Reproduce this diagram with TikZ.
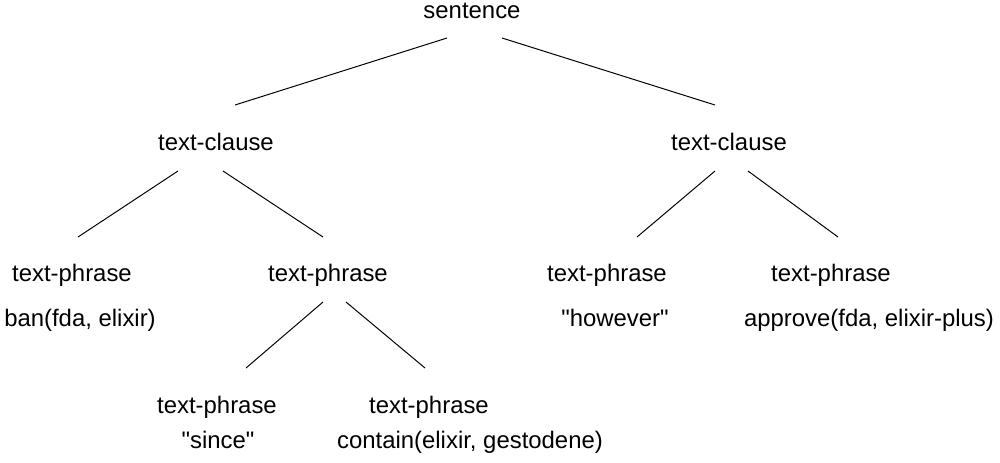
\documentclass[tikz,border=0pt]{standalone}
\usepackage{fontspec}
\setmainfont{Liberation Sans}[Ligatures=TeXOff]
\usetikzlibrary{calc}
\tikzset{
  lbl/.style={inner sep=0pt, text height=12.3pt, text depth=3.6pt,
    font=\fontsize{17}{20}\selectfont},
  branch/.style={line width=0.7pt}
}
\begin{document}
\begin{tikzpicture}[x=0.025cm,y=-0.025cm]
          \useasboundingbox (0,0) rectangle (1000,462);

          \node (s) at (472,12) [lbl] {sentence};
          \node (lc) at (216,144) [lbl] {text-clause};
          \node (rc) at (729,144) [lbl] {text-clause};

          \node (p1) at (72,275) [lbl] {text-phrase};
          \node (p2) at (328,275) [lbl] {text-phrase};
          \node (p3) at (607,275) [lbl] {text-phrase};
          \node (p4) at (831,275) [lbl] {text-phrase};
          \node (p5) at (217,407) [lbl] {text-phrase};
          \node (p6) at (429,407) [lbl] {text-phrase};

          \node (ban) at (80,320) [lbl] {ban(fda, elixir)};
          \node (however) at (615,320) [lbl] {"however"};
          \node (approve) at (869,320) [lbl] {approve(fda, elixir-plus)};
          \node (since) at (218,442) [lbl] {"since"};
          \node (contain) at (470,442) [lbl] {contain(elixir, gestodene)};

          \draw[branch] ($(s)+(-25,26)$) -- ($(lc)+(19,-39)$);
          \draw[branch] ($(s)+(30,26)$) -- ($(rc)+(-14,-39)$);

          \draw[branch] ($(lc)+(-38,27)$) -- ($(p1)+(6,-38)$);
          \draw[branch] ($(lc)+(7,27)$) -- ($(p2)+(-5,-38)$);
          \draw[branch] ($(rc)+(-14,27)$) -- ($(p3)+(30,-38)$);
          \draw[branch] ($(rc)+(19,27)$) -- ($(p4)+(7,-38)$);

          \draw[branch] ($(p2)+(-5,27)$) -- ($(p5)+(29,-39)$);
          \draw[branch] ($(p2)+(18,27)$) -- ($(p6)+(-4,-39)$);
\end{tikzpicture}
\end{document}
